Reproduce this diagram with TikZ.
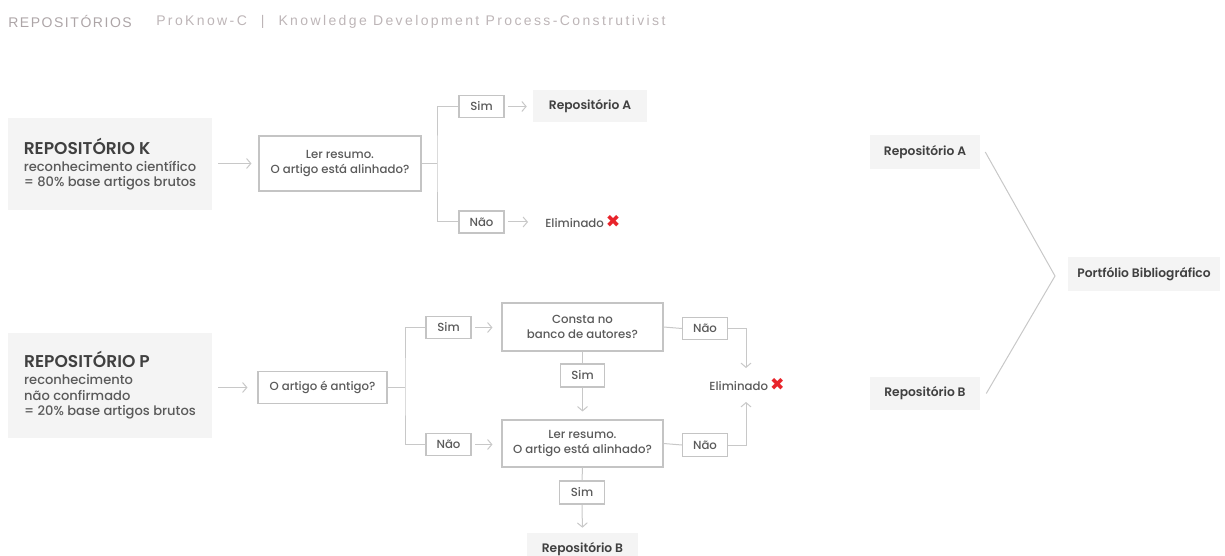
\documentclass[tikz,border=0pt]{standalone}
\usepackage{fontspec}
\setmainfont{Poppins}[UprightFont=* Medium, BoldFont=* SemiBold]
\newfontfamily\titlefontA[LetterSpace=11]{Liberation Sans}
\newfontfamily\titlefontB[LetterSpace=17]{Liberation Sans}
\newfontfamily\symfont{DejaVu Sans}
\usetikzlibrary{arrows.meta}

\definecolor{fillc}{HTML}{F4F4F4}
\definecolor{boxc}{HTML}{C4C4C4}
\definecolor{linec}{HTML}{C8C8C8}
\definecolor{txtc}{HTML}{5A5A5A}
\definecolor{headc}{HTML}{404040}
\definecolor{titlea}{HTML}{ADA5A7}
\definecolor{titleb}{HTML}{BDB5B7}
\definecolor{xred}{HTML}{E8242B}

\def\px{*0.75pt}
\newcommand{\xmark}{{\symfont\fontsize{13}{13}\selectfont\color{xred}✖}}

\tikzset{
  base/.style={inner sep=0pt, text=txtc, font=\fontsize{8.8}{11.2}\selectfont, align=center},
  qbox/.style={base, draw=boxc, line width=0.8pt},
  tagbox/.style={qbox, minimum width={45\px}, minimum height={22\px}},
  repobox/.style={base, fill=fillc, text=headc, font=\fontsize{9.2}{11}\selectfont\bfseries},
  srcbox/.style={base, fill=fillc, align=left, minimum width={204\px},
    font=\fontsize{9.8}{11.7}\selectfont},
  conn/.style={draw=linec, line width=0.75pt},
  arr/.style={conn, -{Straight Barb[length=3.2pt, width=7.5pt]},
    shorten <=3.5\px, shorten >=7\px},
  ttl/.style={inner sep=0pt, anchor=west},
}

\begin{document}
\begin{tikzpicture}[x=0.75pt, y=-0.75pt]
\useasboundingbox (0,0) rectangle (1225,556);

% heading line
\node[ttl, text=titlea, font=\titlefontA\fontsize{10.5}{11}\selectfont] (ttlA) at (8,21.5) {REPOSITÓRIOS};
\node[ttl, text=titleb, font=\titlefontB\fontsize{10.5}{11}\selectfont] (ttlB) at (156,21.5)
  {ProKnow-C\hspace{1em}|\hspace{1em}Knowledge Development Process-Construtivist};

% ---------- Repositório K ----------
\node[srcbox, minimum height={92\px}] (K) at (110,164)
  {{\fontsize{12.8}{15.5}\selectfont\bfseries\color{headc}REPOSITÓRIO K}\\[1pt]
   reconhecimento científico\\= 80\% base artigos brutos};
\node[qbox, minimum width={162\px}, minimum height={55\px}] (L1) at (340,163.5)
  {Ler resumo.\\O artigo está alinhado?};
\node[tagbox] (S1) at (481.5,106.5) {Sim};
\node[tagbox] (N1) at (481.5,222) {Não};
\node[repobox, minimum width={114\px}, minimum height={32\px}] (RA1) at (590,106) {Repositório A};
\node[base, anchor=west] (E1) at (545,222) {Eliminado\,\xmark};

\coordinate (b1) at (437,163.5);
\draw[arr, shorten <=6\px] (K.east |- L1.west) -- (L1.west);
\draw[conn] (L1.east) -- (b1);
\draw[conn] (S1.west) -| (b1) |- (N1.west);
\draw[arr, shorten >=6\px] (S1.east) -- (S1.east -| RA1.west);
\draw[arr, shorten >=17\px] (N1.east) -- (N1.east -| E1.west);

% ---------- Repositório P ----------
\node[srcbox, minimum height={105\px}] (P) at (110,385.5)
  {{\fontsize{12.8}{15.5}\selectfont\bfseries\color{headc}REPOSITÓRIO P}\\[1pt]
   reconhecimento\\não confirmado\\= 20\% base artigos brutos};
\node[qbox, minimum width={129\px}, minimum height={32\px}] (Q) at (322.5,387.5) {O artigo é antigo?};
\node[tagbox] (S2) at (448.5,327.5) {Sim};
\node[tagbox] (N2) at (448.5,444.5) {Não};
\node[qbox, minimum width={161\px}, minimum height={48\px}] (C) at (582.5,327) {Consta no\\banco de autores?};
\node[qbox, minimum width={161\px}, minimum height={47\px}] (L2) at (582.5,443.5) {Ler resumo.\\O artigo está alinhado?};
\node[tagbox, minimum width={44\px}, minimum height={23\px}] (S3) at (582.5,375.5) {Sim};
\node[tagbox] (NA) at (705,328.5) {Não};
\node[tagbox, minimum height={23\px}] (NB) at (705,445) {Não};
\node[base] (E2) at (747,385) {Eliminado\,\xmark};
\node[tagbox, minimum height={23\px}] (S4) at (582,492.5) {Sim};
\node[repobox, minimum width={111\px}, minimum height={32\px}] (RB1) at (582.5,549) {Repositório B};

\coordinate (b2) at (405,387.5);
\coordinate (e2) at (746,385);
\draw[arr, shorten <=6\px, shorten >=10\px] (P.east |- Q.west) -- (Q.west);
\draw[conn] (Q.east) -- (b2);
\draw[conn] (S2.west) -| (b2) |- (N2.west);
\draw[arr, shorten >=9\px] (S2.east) -- (S2.east -| C.west);
\draw[arr, shorten >=9\px] (N2.east) -- (N2.east -| L2.west);
\draw[conn] (C.south) -- (S3.north);
\draw[arr, shorten <=0pt, shorten >=8\px] (S3.south) -- (L2.north);
\draw[conn] (C.east) -- (NA.west);
\draw[conn] (L2.east) -- (NB.west);
\draw[arr, shorten <=0pt, shorten >=17\px] (NA.east) -| (e2);
\draw[arr, shorten <=0pt, shorten >=17\px] (NB.east) -| (e2);
\draw[conn] (L2.south) -- (S4.north);
\draw[arr, shorten <=0pt, shorten >=5\px] (S4.south) -- (RB1.north);

% ---------- Portfólio ----------
\node[repobox, minimum width={110\px}, minimum height={34\px}] (RA2) at (925,152) {Repositório A};
\node[repobox, minimum width={110\px}, minimum height={33\px}] (RB2) at (925,393.5) {Repositório B};
\node[repobox, minimum width={152\px}, minimum height={34\px}] (PB) at (1144,274) {Portfólio Bibliográfico};
\coordinate (apex) at (1055,276);
\draw[conn] ([xshift=5\px]RA2.east) -- (apex) -- ([xshift=6\px]RB2.east);
\end{tikzpicture}
\end{document}
